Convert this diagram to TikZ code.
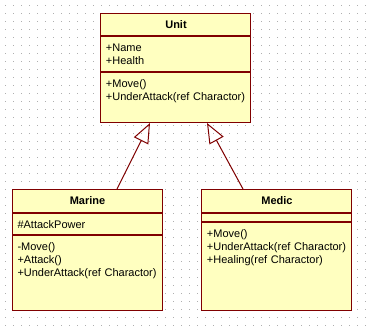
\documentclass[tikz,border=0pt]{standalone}
\usepackage{fontspec}
\setmainfont{Liberation Sans}
\usepackage{xcolor}
\usetikzlibrary{positioning,calc,arrows.meta}

\definecolor{umlfill}{RGB}{255,255,192}
\definecolor{umlborder}{RGB}{128,0,0}
\definecolor{griddot}{RGB}{175,175,175}

\begin{document}
\begin{tikzpicture}[
    x=1pt, y=-1pt,
    font=\fontsize{11}{13}\selectfont,
    classname/.style={
        rectangle,
        draw=umlborder,
        fill=umlfill,
        line width=1pt,
        minimum width=150pt,
        minimum height=#1,
        inner sep=0pt,
        font=\fontsize{11}{13}\selectfont\bfseries
    },
    members/.style={
        rectangle,
        draw=umlborder,
        fill=umlfill,
        line width=1pt,
        minimum width=150pt,
        text width=140pt,
        inner xsep=5pt,
        inner ysep=3pt,
        align=left,
        text height=11.7pt,
        text depth=#1
    },
    inherit/.style={-{Triangle[open, length=20pt, width=16pt]}, draw=umlborder, line width=1pt}
]

\useasboundingbox (0,0) rectangle (368,327);
\fill[white] (0,0) rectangle (368,327);

% dotted background grid
\foreach \gx in {5,13,...,365}
  \foreach \gy in {5,13,...,325}
    \fill[griddot] (\gx,\gy) rectangle +(1,1);

\node[classname=22pt, anchor=north] (unit) at (176,13) {Unit};
\node[members=17.3pt, below=0pt of unit] (unitattr) {+Name\\+Health};
\node[members=32.3pt, below=0pt of unitattr] (unitops) {+Move()\\+UnderAttack(ref Charactor)};

\node[classname=23pt, anchor=north] (marine) at (87.5,189) {Marine};
\node[members=3.3pt, below=0pt of marine] (marineattr) {\#AttackPower};
\node[members=57.3pt, below=0pt of marineattr] (marineops) {-Move()\\+Attack()\\+UnderAttack(ref Charactor)};

\node[classname=23pt, anchor=north] (medic) at (277,189) {Medic};
\node[members=0pt, text height=0pt, minimum height=8pt, below=0pt of medic] (medicattr) {};
\node[members=70.3pt, below=0pt of medicattr] (medicops) {+Move()\\+UnderAttack(ref Charactor)\\+Healing(ref Charactor)};

\draw[inherit] ([xshift=29.5pt]marine.north) -- ([xshift=-26pt]unitops.south);
\draw[inherit] ([xshift=-34pt]medic.north) -- ([xshift=31pt]unitops.south);

\end{tikzpicture}
\end{document}
